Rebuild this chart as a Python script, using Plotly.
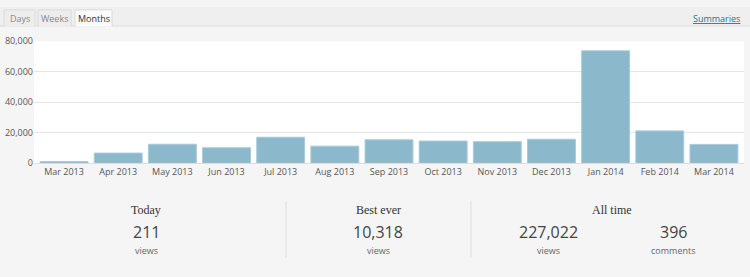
import plotly.graph_objects as go

months = ["Mar 2013", "Apr 2013", "May 2013", "Jun 2013", "Jul 2013", "Aug 2013",
          "Sep 2013", "Oct 2013", "Nov 2013", "Dec 2013", "Jan 2014", "Feb 2014", "Mar 2014"]
views = [1200, 6700, 12500, 10200, 17100, 11250, 15400, 14600, 14200, 15800, 73750, 21250, 12400]
y_ticks = [0, 20000, 40000, 60000, 80000]

tabs = ["Days", "Weeks", "Months"]
stat_titles = ["Today", "Best ever", "All time"]
stat_values = ["211", "10,318", "227,022", "396"]
stat_units = ["views", "views", "views", "comments"]

W, H = 750, 277
def px(x): return x / W
def py(y): return 1 - y / H

fig = go.Figure()
fig.add_trace(go.Bar(
    x=months, y=views,
    marker=dict(color="#8cb8cc", line=dict(color="#a8cbdb", width=1)),
    hoverinfo="x+y",
))

shapes = []
# tab bar
shapes.append(dict(type="rect", xref="paper", yref="paper", x0=0, x1=1, y0=py(20), y1=1,
                   fillcolor="#efefef", line=dict(width=0), layer="below"))
shapes.append(dict(type="line", xref="paper", yref="paper", x0=0, x1=1, y0=py(20), y1=py(20),
                   line=dict(color="#dcdcdc", width=1)))
tab_x = [(4, 35), (38, 71), (75, 112)]
for i, (a, b) in enumerate(tab_x):
    active = tabs[i] == "Months"
    shapes.append(dict(type="path", xref="paper", yref="paper",
                       path=f"M {px(a)},{py(20.5)} L {px(a)},{py(3)} L {px(b)},{py(3)} L {px(b)},{py(20.5)}",
                       fillcolor="#fbfbfb" if active else "#ededed",
                       line=dict(color="#dadada", width=1)))
# dividers
for x in [286, 471]:
    shapes.append(dict(type="line", xref="paper", yref="paper", x0=px(x), x1=px(x),
                       y0=py(204), y1=py(263), line=dict(color="#dddddd", width=1)))

annotations = []
for i, t in enumerate(tabs):
    a, b = tab_x[i]
    annotations.append(dict(text=t, x=px((a + b) / 2), y=py(12.5), xref="paper", yref="paper",
                            showarrow=False, xanchor="center", yanchor="middle",
                            font=dict(family="Open Sans", size=9,
                                      color="#333333" if t == "Months" else "#888888")))
annotations.append(dict(text="<u>Summaries</u>", x=px(742), y=py(12.5), xref="paper", yref="paper",
                        showarrow=False, xanchor="right", yanchor="middle",
                        font=dict(family="Open Sans", size=9, color="#21759b")))

title_x = [146, 378, 612]
for t, x in zip(stat_titles, title_x):
    annotations.append(dict(text=t, x=px(x), y=py(213), xref="paper", yref="paper",
                            showarrow=False, xanchor="center", yanchor="middle",
                            font=dict(family="Liberation Serif", size=12, color="#333333")))
value_x = [146, 378, 548, 673]
for v, u, x in zip(stat_values, stat_units, value_x):
    annotations.append(dict(text=v, x=px(x), y=py(236), xref="paper", yref="paper",
                            showarrow=False, xanchor="center", yanchor="middle",
                            font=dict(family="Open Sans", size=16, color="#444444")))
    annotations.append(dict(text=u, x=px(x), y=py(256), xref="paper", yref="paper",
                            showarrow=False, xanchor="center", yanchor="middle",
                            font=dict(family="Open Sans", size=9, color="#666666")))

fig.update_layout(
    width=W, height=H,
    margin=dict(l=0, r=0, t=0, b=0),
    paper_bgcolor="#f5f5f5",
    plot_bgcolor="#ffffff",
    bargap=0.115,
    showlegend=False,
    shapes=shapes,
    annotations=annotations,
    font=dict(family="Open Sans", size=9, color="#555555"),
    xaxis=dict(domain=[px(34), px(744)], range=[-0.555, 12.555], showgrid=False,
               showline=True, linecolor="#dddddd", linewidth=1, ticks="",
               tickfont=dict(size=9, color="#555555"), fixedrange=True),
    yaxis=dict(domain=[py(164), py(36)], range=[0, 80000], tickvals=y_ticks,
               tickformat=",", gridcolor="#e6e6e6", gridwidth=1, zeroline=False,
               showline=False, ticks="", tickfont=dict(size=9, color="#555555"),
               fixedrange=True),
)

fig.write_html("out.html")
